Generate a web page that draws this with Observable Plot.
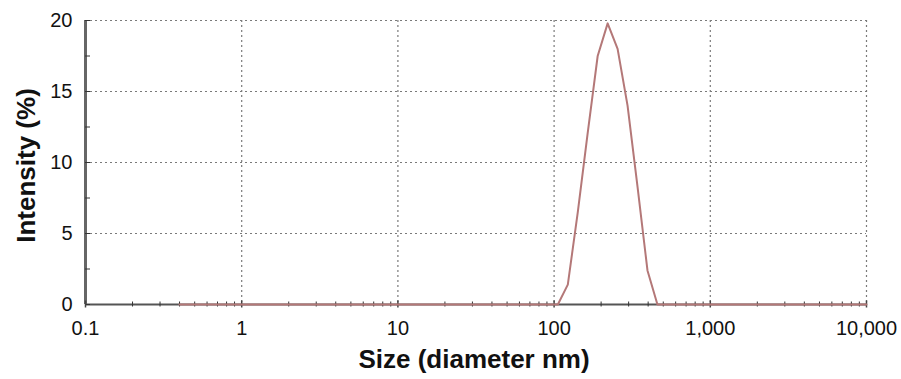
<!DOCTYPE html>
<html><head><meta charset="utf-8">
<script src="https://cdn.jsdelivr.net/npm/d3@7"></script>
<script src="https://cdn.jsdelivr.net/npm/@observablehq/plot@0.6"></script>
<style>
body{margin:0;background:#fff;}
#chart svg{display:block;}
</style></head><body><div id="chart"></div>
<script>
const sizes = [0.4,0.4632,0.5365,0.6213,0.7195,0.8332,0.9649,1.117,1.294,1.499,1.736,2.010,2.328,2.696,3.122,3.615,4.187,4.849,5.615,6.503,7.531,8.721,10.10,11.70,13.54,15.69,18.17,21.04,24.36,28.21,32.67,37.84,43.82,50.75,58.77,68.06,78.82,91.28,105.7,122.4,141.8,164.2,190.1,220.2,255.0,295.3,342.0,396.1,458.7,531.2,615.1,712.4,825.0,955.4,1106,1281,1484,1718,1990,2305,2669,3091,3580,4145,4801,5560,6439,7456,8635,10000];
const intensity = [0,0,0,0,0,0,0,0,0,0,0,0,0,0,0,0,0,0,0,0,0,0,0,0,0,0,0,0,0,0,0,0,0,0,0,0,0,0,0,1.4,6.5,12.1,17.5,19.8,18.0,14.0,8.3,2.4,0,0,0,0,0,0,0,0,0,0,0,0,0,0,0,0,0,0,0,0,0,0];
const xTicks = [0.1,1,10,100,1000,10000];
const xTickLabels = ["0.1","1","10","100","1,000","10,000"];
const xMinorTicks = [0.2,0.3,0.4,0.5,0.6,0.7,0.8,0.9,2,3,4,5,6,7,8,9,20,30,40,50,60,70,80,90,200,300,400,500,600,700,800,900,2000,3000,4000,5000,6000,7000,8000,9000];
const yTicks = [0,5,10,15,20];
const yMinorTicks = [2.5,7.5,12.5,17.5];
const xGrid = [1,10,100,1000,10000];
const yGrid = [5,10,15,20];
const xLabel = "Size (diameter nm)";
const yLabel = "Intensity (%)";

const data = sizes.map((s, i) => ({size: s, value: intensity[i]}));

const chart = Plot.plot({
  width: 901, height: 379,
  marginLeft: 85, marginRight: 35, marginTop: 20, marginBottom: 75,
  style: {fontFamily: "'Liberation Sans', Arial, sans-serif", background: "#fff", color: "#111"},
  x: {type: "log", domain: [0.1, 10000]},
  y: {domain: [0, 20]},
  marks: [
    Plot.ruleX(xGrid, {stroke: "#7a7a7a", strokeDasharray: "2,3", strokeWidth: 1.2}),
    Plot.ruleY(yGrid, {stroke: "#7a7a7a", strokeDasharray: "2,3", strokeWidth: 1.2}),
    Plot.ruleY([0], {stroke: "#555", strokeWidth: 2}),
    Plot.ruleX([0.1], {stroke: "#666", strokeWidth: 3}),
    Plot.axisY({ticks: [...yTicks, ...yMinorTicks], tickSize: 5, dx: 5, text: null, label: null, stroke: "#333"}),
    Plot.axisY({ticks: yTicks, tickSize: 0, tickPadding: 13, fontSize: 20, label: null}),
    Plot.axisX({ticks: xMinorTicks, tickSize: 5, dy: -2.5, text: null, label: null, stroke: "#333"}),
    Plot.axisX({ticks: xTicks, tickSize: 7, dy: -3.5, text: null, label: null, stroke: "#444", strokeWidth: 1.5}),
    Plot.axisX({ticks: xTicks, tickSize: 0, tickPadding: 16, fontSize: 20, label: null,
      tickFormat: d => xTickLabels[xTicks.indexOf(d)]}),
    Plot.line(data, {x: "size", y: "value", stroke: "#b47878", strokeWidth: 2}),
    Plot.text([xLabel], {frameAnchor: "bottom", lineAnchor: "top", textAnchor: "middle", dy: 45, dx: -2, fontSize: 26, fontWeight: "bold", fill: "#111"}),
    Plot.text([yLabel], {frameAnchor: "left", textAnchor: "middle", lineAnchor: "middle", rotate: -90, dx: -59, dy: 3, fontSize: 26, fontWeight: "bold", fill: "#111"})
  ]
});
document.getElementById("chart").append(chart);
</script>
</body></html>
